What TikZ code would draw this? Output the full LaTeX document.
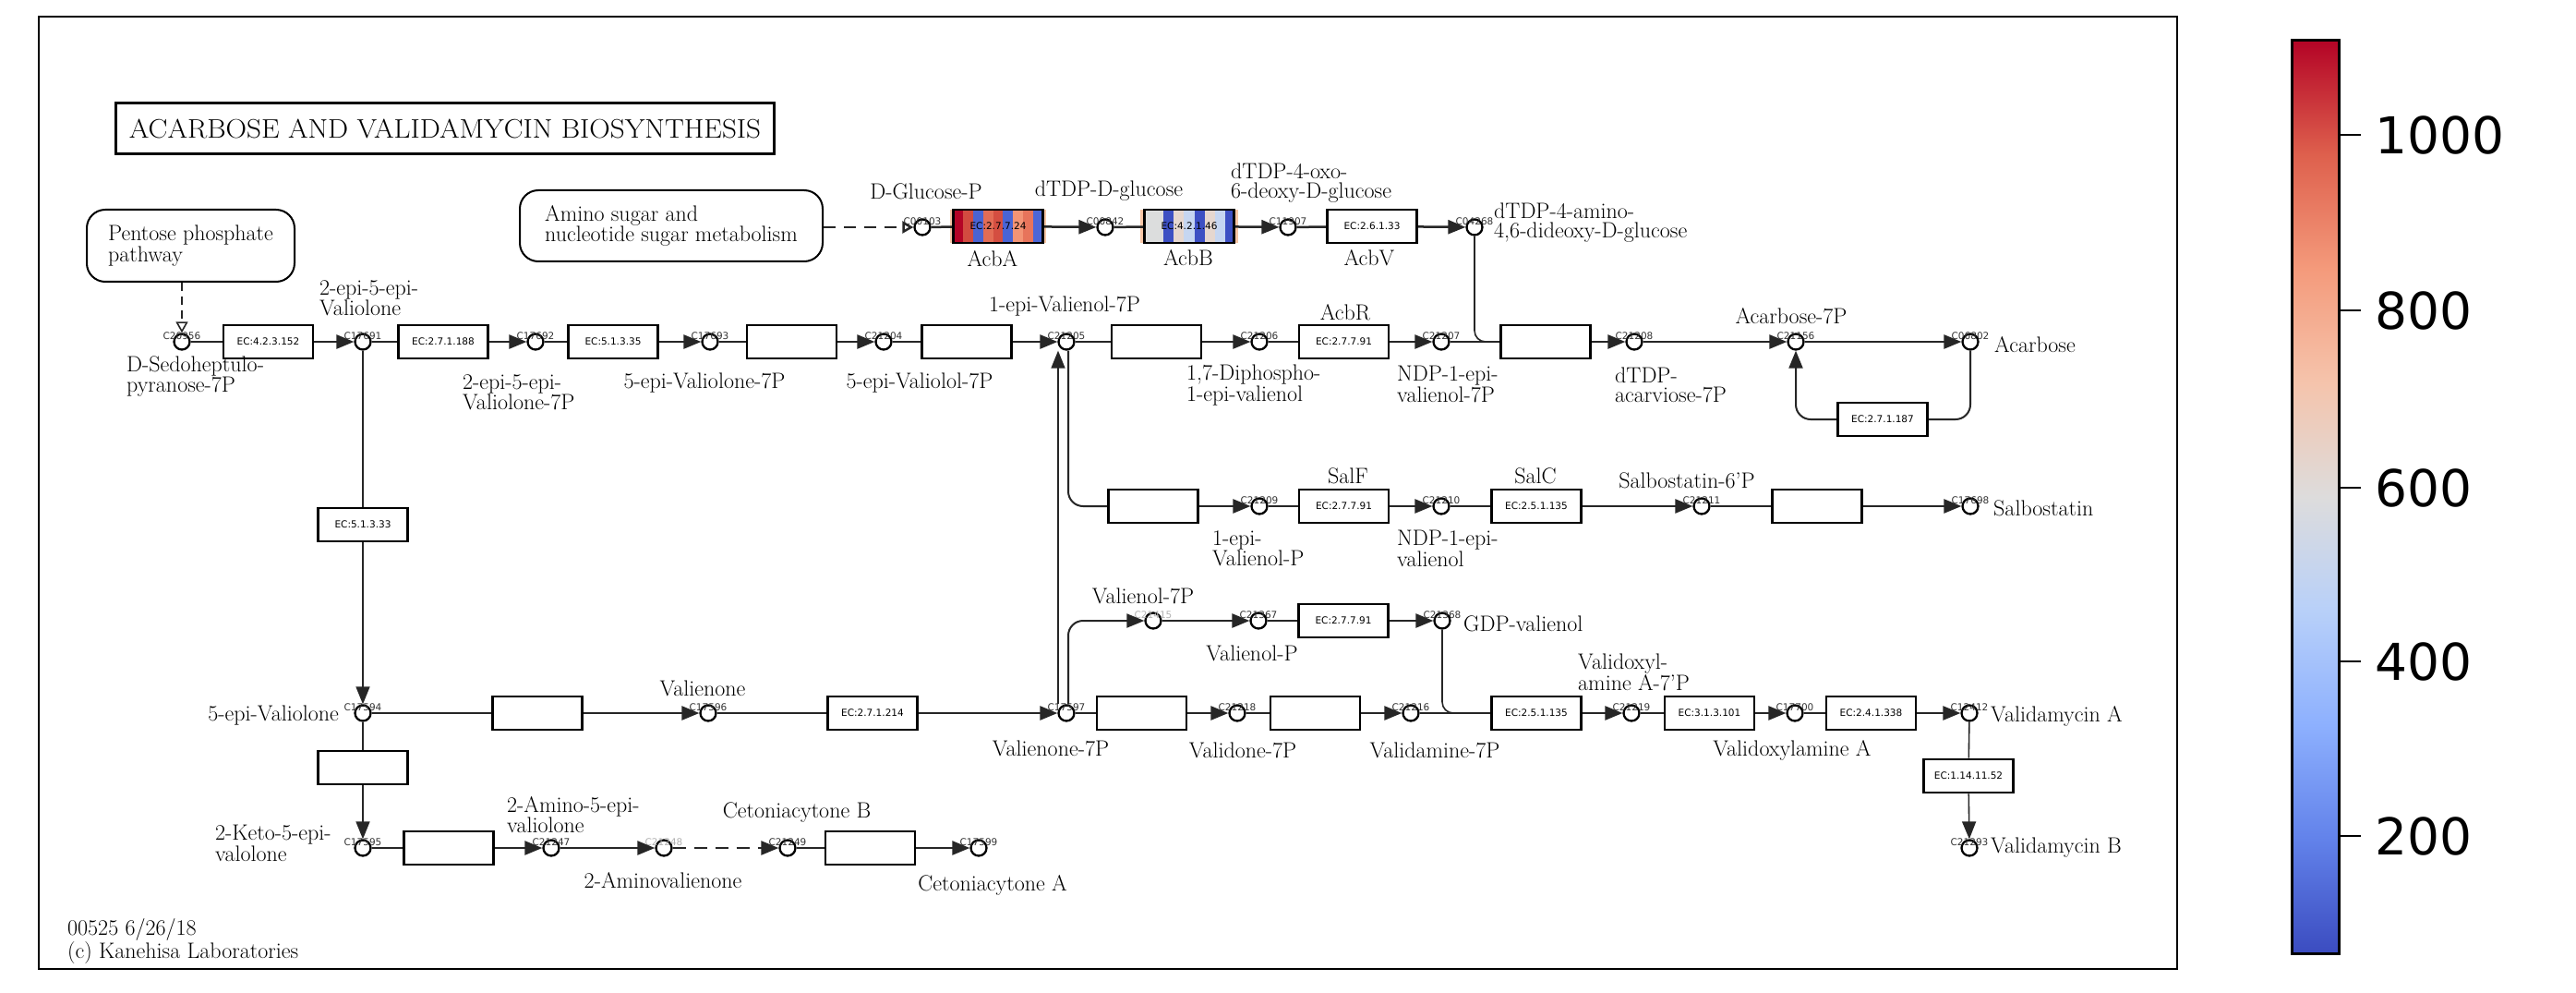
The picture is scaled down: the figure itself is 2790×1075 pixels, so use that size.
\documentclass[tikz,border=0pt]{standalone}
\usepackage{fontspec}
\usepackage{graphicx}
\usetikzlibrary{arrows.meta}
\newfontfamily\dejavu{DejaVu Sans}
\newcommand\lblfnt{\fontsize{24}{21}\selectfont\addfontfeatures{FakeBold=0.6}}
\newcommand\ttlfnt{\fontsize{29}{29}\selectfont\addfontfeatures{FakeBold=0.6}}
\newcommand\ecfnt{\dejavu\fontsize{10.5}{12}\selectfont}
\newcommand\cidfnt{\dejavu\fontsize{10.5}{11}\selectfont}
\newcommand\cbfnt{\dejavu\fontsize{55}{60}\selectfont}
\definecolor{lnk}{gray}{0.15}
\definecolor{peach}{HTML}{F7C6A6}
% expression stripes (coolwarm scale)
\definecolor{hA1}{HTML}{B40426}
\definecolor{hA2}{HTML}{D24B40}
\definecolor{hA3}{HTML}{4A63D3}
\definecolor{hA4}{HTML}{E36C55}
\definecolor{hA5}{HTML}{D44E41}
\definecolor{hA6}{HTML}{4964D5}
\definecolor{hA7}{HTML}{F39475}
\definecolor{hA8}{HTML}{E7745B}
\definecolor{hA9}{HTML}{4B66D7}
\definecolor{hB1}{HTML}{DCDDDD}
\definecolor{hB2}{HTML}{DCDDDD}
\definecolor{hB3}{HTML}{3D50C3}
\definecolor{hB4}{HTML}{E6D7CF}
\definecolor{hB5}{HTML}{C6D6F1}
\definecolor{hB6}{HTML}{3D50C3}
\definecolor{hB7}{HTML}{E6D7CF}
\definecolor{hB8}{HTML}{C6D6F1}
\definecolor{hB9}{HTML}{3D50C3}
% colour bar stops
\definecolor{cw0}{HTML}{3B4CC0}
\definecolor{cw1}{HTML}{6282EA}
\definecolor{cw2}{HTML}{8DB0FE}
\definecolor{cw3}{HTML}{B8D0F9}
\definecolor{cw4}{HTML}{DDDCDC}
\definecolor{cw5}{HTML}{F5C4AC}
\definecolor{cw6}{HTML}{F49A7B}
\definecolor{cw7}{HTML}{DE604D}
\definecolor{cw8}{HTML}{B40426}
% compound circle with its small KEGG id
\newcommand\Cpd[5][cid]{\node[cpd] (#2) at (#3,#4) {}; \node[#1] (#2-id) at ([yshift=6pt]#2.center) {#5};}
% enzyme box
\newcommand\Enz[5][]{\node[enz,#1] (#2) at (#3,#4) {#5};}
% substrate -- enzyme -> product
\newcommand\Rx[3]{\draw[rx] (#1) -- (#2); \draw[rx,tip] (#2) -- (#3);}
\newcommand\Vx[3]{\draw[vx] (#1) -- (#2); \draw[vx,tip] (#2) -- (#3);}

\begin{document}
\begin{tikzpicture}[x=1pt,y=-1pt,
  rx/.style={line width=2.5pt, draw=lnk},
  vx/.style={line width=1.6pt, draw=lnk},
  tip/.style={-{Triangle[length=19pt,width=15pt]}},
  otip/.style={-{Triangle[open,length=12pt,width=13pt]}},
  cpd/.style={circle, draw=black, line width=2.3pt, fill=white, minimum size=17pt, inner sep=0pt},
  enz/.style={rectangle, draw=black, line width=2.6pt, fill=white, minimum width=97pt, minimum height=36pt, inner sep=0pt, font=\ecfnt},
  lbl/.style={font=\lblfnt, inner sep=0pt, align=center},
  lbll/.style={lbl, align=left, anchor=west},
  cid/.style={font=\cidfnt, inner sep=0pt, text=black!80},
  gcid/.style={cid, text=black!30},
  mapbox/.style={draw=black, line width=2pt, rounded corners=20pt, font=\lblfnt, align=left, inner sep=0pt},
]
\useasboundingbox (0,0) rectangle (2790,1075);
\fill[white] (0,0) rectangle (2790,1075);

% frame of the map
\draw[line width=2pt] (42,18) rectangle (2358,1049);

% title and linked maps
\node[draw, line width=3pt, minimum width=713pt, minimum height=55pt, inner sep=0pt,
      font=\ttlfnt] (title) at (482,139) {\scalebox{1.075}[1]{ACARBOSE AND VALIDAMYCIN BIOSYNTHESIS}};
\node[mapbox, minimum width=225pt, minimum height=78pt] (pent) at (206.5,266) {Pentose phosphate\\pathway};
\node[mapbox, minimum width=328pt, minimum height=77pt] (amino) at (727,244.5) {Amino sugar and\\nucleotide sugar metabolism};

% expression stripes behind AcbA and AcbB
\fill[peach] (1029,227) rectangle (1133,263);
\fill[peach] (1235,227) rectangle (1341,263);
\foreach \i in {1,...,9} {
  \fill[hA\i] ({1032+(\i-1)*10.889},227) rectangle ++(10.889,36);
  \fill[hB\i] ({1238+(\i-1)*11.111},227) rectangle ++(11.111,36);
}

% compounds
\Cpd{c00103}{999}{246}{C00103}
\Cpd{c00842}{1197}{246}{C00842}
\Cpd{c11907}{1395}{246}{C11907}
\Cpd{c04268}{1597}{246}{C04268}
\Cpd{c20956}{197}{370}{C20956}
\Cpd{c17691}{393}{370}{C17691}
\Cpd{c17692}{580}{370}{C17692}
\Cpd{c17693}{769}{370}{C17693}
\Cpd{c21204}{957}{370}{C21204}
\Cpd{c21205}{1155}{370}{C21205}
\Cpd{c21206}{1364}{370}{C21206}
\Cpd{c21207}{1561}{370}{C21207}
\Cpd{c21208}{1770}{370}{C21208}
\Cpd{c21156}{1945}{370}{C21156}
\Cpd{c06802}{2134}{370}{C06802}
\Cpd{c21209}{1364}{548}{C21209}
\Cpd{c21210}{1561}{548}{C21210}
\Cpd{c21211}{1843}{548}{C21211}
\Cpd{c17698}{2134}{548}{C17698}
\Cpd[gcid]{c21415}{1249}{672}{C21415}
\Cpd{c21367}{1363}{672}{C21367}
\Cpd{c21368}{1562}{672}{C21368}
\Cpd{c17594}{393}{772}{C17594}
\Cpd{c17596}{767}{772}{C17596}
\Cpd{c17597}{1155}{772}{C17597}
\Cpd{c21218}{1340}{772}{C21218}
\Cpd{c21216}{1528}{772}{C21216}
\Cpd{c21219}{1767}{772}{C21219}
\Cpd{c17700}{1944}{772}{C17700}
\Cpd{c12412}{2133}{772}{C12412}
\Cpd{c17595}{393}{918}{C17595}
\Cpd{c21247}{597}{918}{C21247}
\Cpd[gcid]{c21248}{719}{918}{C21248}
\Cpd{c21249}{853}{918}{C21249}
\Cpd{c17599}{1060}{918}{C17599}
\Cpd{c21293}{2133}{918}{C21293}

% enzymes
\Enz[fill=none]{acba}{1081}{245}{EC:2.7.7.24}
\Enz[fill=none]{acbb}{1288}{245}{EC:4.2.1.46}
\Enz{acbv}{1486}{245}{EC:2.6.1.33}
\Enz{e1}{290.5}{370}{EC:4.2.3.152}
\Enz{e2}{480}{370}{EC:2.7.1.188}
\Enz{e3}{664}{370}{EC:5.1.3.35}
\Enz{e4}{857.5}{370}{}
\Enz{e5}{1047}{370}{}
\Enz{e6}{1252.5}{370}{}
\Enz{acbr}{1455.5}{370}{EC:2.7.7.91}
\Enz{e8}{1674}{370}{}
\Enz{e9}{2039}{454}{EC:2.7.1.187}
\Enz{s1}{1249}{548}{}
\Enz{salf}{1455.5}{548}{EC:2.7.7.91}
\Enz{salc}{1664}{548}{EC:2.5.1.135}
\Enz{s4}{1968}{548}{}
\Enz{g1}{1455}{672}{EC:2.7.7.91}
\Enz{v1}{582}{772}{}
\Enz{v2}{945}{772}{EC:2.7.1.214}
\Enz{v3}{1236.5}{772}{}
\Enz{v4}{1424.5}{772}{}
\Enz{v5}{1664}{772}{EC:2.5.1.135}
\Enz{v6}{1851.5}{772}{EC:3.1.3.101}
\Enz{v7}{2026.5}{772}{EC:2.4.1.338}
\Enz{k1}{393}{568}{EC:5.1.3.33}
\Enz{k2}{393}{831}{}
\Enz{vb}{2132}{840}{EC:1.14.11.52}
\Enz{t1}{486}{918}{}
\Enz{t2}{942.5}{918}{}

% links from other maps
\draw[rx,dash pattern=on 13pt off 9pt,otip] (amino.east |- c00103) -- (c00103);
\draw[vx,dash pattern=on 9pt off 6pt,otip] (pent.south -| c20956) -- (c20956);

% dTDP sugar branch
\Rx{c00103}{acba}{c00842}
\Rx{c00842}{acbb}{c11907}
\Rx{c11907}{acbv}{c04268}
\coordinate (j1) at (1612,370);
\draw[vx,rounded corners=12pt] (c04268) |- (j1);

% main C7-cyclitol line
\Rx{c20956}{e1}{c17691}
\Rx{c17691}{e2}{c17692}
\Rx{c17692}{e3}{c17693}
\Rx{c17693}{e4}{c21204}
\Rx{c21204}{e5}{c21205}
\Rx{c21205}{e6}{c21206}
\Rx{c21206}{acbr}{c21207}
\Rx{c21207}{e8}{c21208}
\draw[rx,tip] (c21208) -- (c21156);
\draw[rx,tip] (c21156) -- (c06802);
\draw[vx,line width=2pt,rounded corners=16pt] (c06802) |- (e9);
\draw[vx,line width=2pt,rounded corners=16pt,tip] (e9) -| (c21156);

% salbostatin branch
\draw[vx,line width=2pt,rounded corners=16pt] ([xshift=2pt]c21205.south) |- (s1);
\draw[rx,tip] (s1) -- (c21209);
\Rx{c21209}{salf}{c21210}
\Rx{c21210}{salc}{c21211}
\Rx{c21211}{s4}{c17698}

% valienone line
\Vx{c17691}{k1}{c17594}
\Vx{c17594}{k2}{c17595}
\Rx{c17594}{v1}{c17596}
\Rx{c17596}{v2}{c17597}
\Rx{c17597}{v3}{c21218}
\Rx{c21218}{v4}{c21216}
\Rx{c21216}{v5}{c21219}
\Rx{c21219}{v6}{c17700}
\Rx{c17700}{v7}{c12412}
\Vx{c12412}{vb}{c21293}
\coordinate (upa) at ([xshift=-9pt]c17597.north);
\coordinate (upb) at ([xshift=-9pt]c21205.south);
\draw[vx,tip] (upa) -- (upb);

% GDP-valienol branch
\draw[vx,line width=2pt,rounded corners=16pt,tip] ([xshift=2pt]c17597.north) |- (c21415);
\draw[rx,tip] (c21415) -- (c21367);
\Rx{c21367}{g1}{c21368}
\coordinate (j2) at (1575,772);
\draw[vx,rounded corners=12pt] (c21368) |- (j2);

% cetoniacytone branch
\Rx{c17595}{t1}{c21247}
\draw[rx,tip] (c21247) -- (c21248);
\draw[rx,dash pattern=on 14pt off 9pt,tip] (c21248) -- (c21249);
\Rx{c21249}{t2}{c17599}

% compound names
\node[lbl] (n1) at (1003,207) {D-Glucose-P};
\node[lbl] (n2) at (1201,207) {dTDP-D-glucose};
\node[lbll] (n3) at (1333,198) {dTDP-4-oxo-\\6-deoxy-D-glucose};
\node[lbll] (n4) at (1618,241) {dTDP-4-amino-\\4,6-dideoxy-D-glucose};
\node[lbl] (n5) at (1075,280) {AcbA};
\node[lbl] (n6) at (1287,279) {AcbB};
\node[lbl] (n7) at (1483,279) {AcbV};
\node[lbll] (n8) at (137,408) {D-Sedoheptulo-\\pyranose-7P};
\node[lbll] (n9) at (346,323) {2-epi-5-epi-\\Valiolone};
\node[lbll] (n10) at (501,425) {2-epi-5-epi-\\Valiolone-7P};
\node[lbl] (n11) at (763,415) {5-epi-Valiolone-7P};
\node[lbl] (n12) at (996,415) {5-epi-Valiolol-7P};
\node[lbl] (n13) at (1153,332) {1-epi-Valienol-7P};
\node[lbll] (n14) at (1285,417) {1,7-Diphospho-\\1-epi-valienol};
\node[lbl] (n15) at (1457,338) {AcbR};
\node[lbll] (n16) at (1513,416) {NDP-1-epi-\\valienol-7P};
\node[lbll] (n17) at (1749,417) {dTDP-\\acarviose-7P};
\node[lbl] (n18) at (1940,342) {Acarbose-7P};
\node[lbll] (n19) at (2160,373) {Acarbose};
\node[lbl] (n20) at (1460,515) {SalF};
\node[lbl] (n21) at (1663,515) {SalC};
\node[lbll] (n22) at (1313,594) {1-epi-\\Valienol-P};
\node[lbll] (n23) at (1513,594) {NDP-1-epi-\\valienol};
\node[lbl] (n24) at (1827,520) {Salbostatin-6'P};
\node[lbll] (n25) at (2159,550) {Salbostatin};
\node[lbl] (n26) at (1238,645) {Valienol-7P};
\node[lbl] (n27) at (1356,707) {Valienol-P};
\node[lbll] (n28) at (1585,675) {GDP-valienol};
\node[lbl,anchor=east] (n29) at (367,775) {5-epi-Valiolone};
\node[lbl] (n30) at (761,745) {Valienone};
\node[lbl] (n31) at (1138,810) {Valienone-7P};
\node[lbl] (n32) at (1346,812) {Validone-7P};
\node[lbl] (n33) at (1554,812) {Validamine-7P};
\node[lbll] (n34) at (1709,728) {Validoxyl-\\amine A-7'P};
\node[lbl] (n35) at (1941,812) {Validoxylamine A};
\node[lbll] (n36) at (2156,775) {Validamycin A};
\node[lbll] (n37) at (2156,918) {Validamycin B};
\node[lbll] (n38) at (233,913) {2-Keto-5-epi-\\valolone};
\node[lbll] (n39) at (549,882) {2-Amino-5-epi-\\valiolone};
\node[lbl] (n40) at (718,953) {2-Aminovalienone};
\node[lbl] (n41) at (863,880) {Cetoniacytone B};
\node[lbl] (n42) at (1075,958) {Cetoniacytone A};
\node[lbll] (n43) at (73,1019) {00525 6/26/18\\(c) Kanehisa Laboratories};

% colour bar
\shade[top color=cw8, bottom color=cw7] (2482,44) rectangle (2533,167.5);
\shade[top color=cw7, bottom color=cw6] (2482,167.5) rectangle (2533,291);
\shade[top color=cw6, bottom color=cw5] (2482,291) rectangle (2533,414.5);
\shade[top color=cw5, bottom color=cw4] (2482,414.5) rectangle (2533,538);
\shade[top color=cw4, bottom color=cw3] (2482,538) rectangle (2533,661.5);
\shade[top color=cw3, bottom color=cw2] (2482,661.5) rectangle (2533,785);
\shade[top color=cw2, bottom color=cw1] (2482,785) rectangle (2533,908.5);
\shade[top color=cw1, bottom color=cw0] (2482,908.5) rectangle (2533,1032);
\draw[line width=3pt] (2482,44) rectangle (2533,1032);
\foreach \v/\y in {1000/146, 800/336, 600/528, 400/716, 200/905} {
  \draw[line width=2.5pt] (2533,\y) -- (2557,\y);
  \node[anchor=west, font=\cbfnt, inner sep=0pt] (tk\v) at (2572,\y) {\v};
}
\end{tikzpicture}
\end{document}
